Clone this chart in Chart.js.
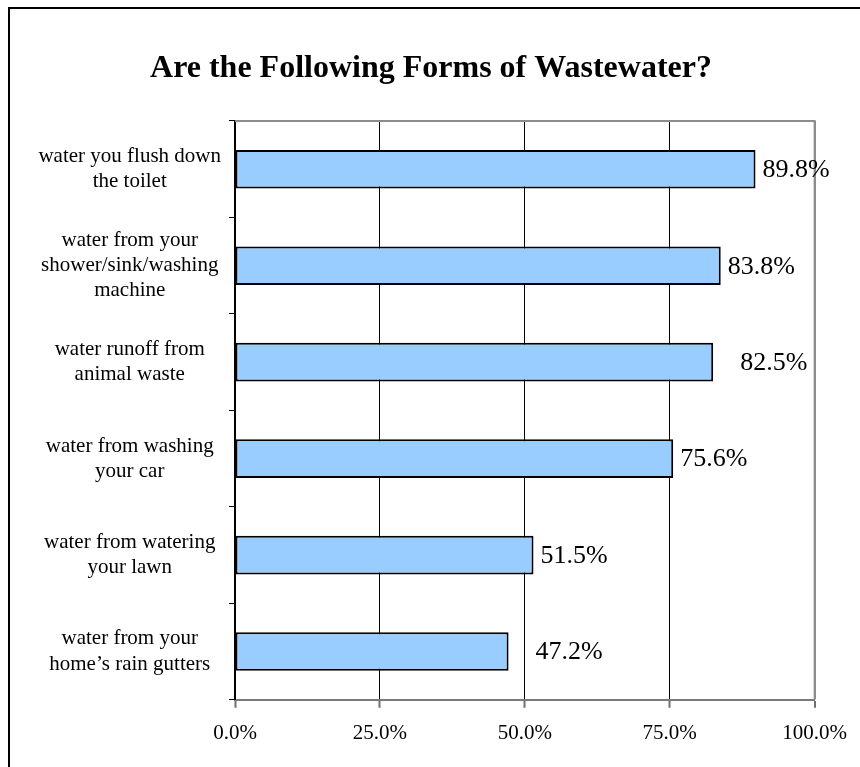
<!DOCTYPE html>
<html>
<head>
<meta charset="utf-8">
<title>Are the Following Forms of Wastewater?</title>
<script src="https://cdn.jsdelivr.net/npm/chart.js@4.4.1/dist/chart.umd.min.js"></script>
<style>
  html, body { margin: 0; padding: 0; background: #fff; }
  canvas { display: block; }
</style>
</head>
<body>
<canvas id="chart" width="860" height="767"></canvas>
<script>
// dados do grafico
const chartTitle = 'Are the Following Forms of Wastewater?'
const categories = [
    ['water you flush down', 'the toilet'],
    ['water from your', 'shower/sink/washing', 'machine'],
    ['water runoff from', 'animal waste'],
    ['water from washing', 'your car'],
    ['water from watering', 'your lawn'],
    ['water from your', 'home\u2019s rain gutters']
]
const percentValues = [89.8, 83.8, 82.5, 75.6, 51.5, 47.2]
const xTicks = [0, 25, 50, 75, 100]

// distancia entre a barra e o rotulo (como no original)
const labelGaps = [7, 7, 27, 7, 7, 27]

const serif = '"Liberation Serif", "Times New Roman", serif'

// moldura externa (so esquerda e topo aparecem) + titulo
const framePlugin = {
    id: 'frame',
    beforeDraw(chart) {
        const ctx = chart.ctx
        ctx.save()
        ctx.fillStyle = '#fff'
        ctx.fillRect(0, 0, chart.width, chart.height)
        ctx.strokeStyle = '#000'
        ctx.lineWidth = 2
        ctx.beginPath()
        ctx.moveTo(9, chart.height)
        ctx.lineTo(9, 8)
        ctx.lineTo(chart.width, 8)
        ctx.stroke()

        ctx.font = 'bold 32px ' + serif
        ctx.fillStyle = '#000'
        ctx.textAlign = 'center'
        ctx.textBaseline = 'middle'
        ctx.fillText(chartTitle, 431, 69)
        ctx.restore()
    },
    afterDatasetsDraw(chart) {
        // borda cinza em cima e na direita da area do grafico
        const a = chart.chartArea
        const ctx = chart.ctx
        ctx.save()
        ctx.strokeStyle = '#8c8c8c'
        ctx.lineWidth = 2
        ctx.beginPath()
        ctx.moveTo(a.left, a.top)
        ctx.lineTo(a.right, a.top)
        ctx.lineTo(a.right, a.bottom)
        ctx.stroke()
        ctx.restore()
    }
}

// rotulos de valor a direita das barras
const valueLabels = {
    id: 'valueLabels',
    afterDraw(chart) {
        const ctx = chart.ctx
        const meta = chart.getDatasetMeta(0)
        ctx.save()
        ctx.font = '26px ' + serif
        ctx.fillStyle = '#000'
        ctx.textAlign = 'left'
        ctx.textBaseline = 'middle'
        meta.data.forEach((bar, i) => {
            const v = chart.data.datasets[0].data[i]
            ctx.fillText(v.toFixed(1) + '%', bar.x + labelGaps[i], bar.y + 1)
        })
        ctx.restore()
    }
}

const data = {
    labels: categories,
    datasets: [{
        label: 'Yes',
        data: percentValues,
        backgroundColor: '#99ccff',
        borderColor: '#000',
        borderWidth: 2,
        borderSkipped: false,
        barPercentage: 0.4,
        categoryPercentage: 1.0
    }]
}

const config = {
    type: 'bar',
    data: data,
    options: {
        indexAxis: 'y',
        responsive: false,
        animation: false,
        layout: {
            padding: { left: 12, right: 42, bottom: 8, top: 121 }
        },
        plugins: {
            legend: { display: false },
            tooltip: { enabled: false },
            title: { display: false }
        },
        scales: {
            x: {
                min: 0,
                max: 100,
                afterBuildTicks(scale) {
                    scale.ticks = xTicks.map(v => ({ value: v }))
                },
                ticks: {
                    color: '#000',
                    padding: 13,
                    font: { family: serif, size: 21 },
                    callback: v => v.toFixed(1) + '%'
                },
                grid: {
                    color: ctx => (ctx.tick && ctx.tick.value === 100) ? '#8c8c8c' : '#000',
                    lineWidth: ctx => (ctx.tick && ctx.tick.value === 100) ? 2 : 1,
                    tickColor: '#6e6e6e',
                    tickLength: 8,
                    tickWidth: 2
                },
                border: { display: true, color: '#7a7a7a', width: 2 }
            },
            y: {
                afterFit(scale) {
                    scale.width = 223
                },
                ticks: {
                    color: '#000',
                    padding: 8,
                    crossAlign: 'center',
                    font: { family: serif, size: 21, lineHeight: 1.2 }
                },
                grid: {
                    drawOnChartArea: false,
                    offset: true,
                    color: '#000',
                    tickLength: 6,
                    tickWidth: 1
                },
                border: { display: true, color: '#000', width: 2 }
            }
        }
    },
    plugins: [framePlugin, valueLabels]
}

const myChart = new Chart(document.getElementById('chart'), config)
</script>
</body>
</html>
